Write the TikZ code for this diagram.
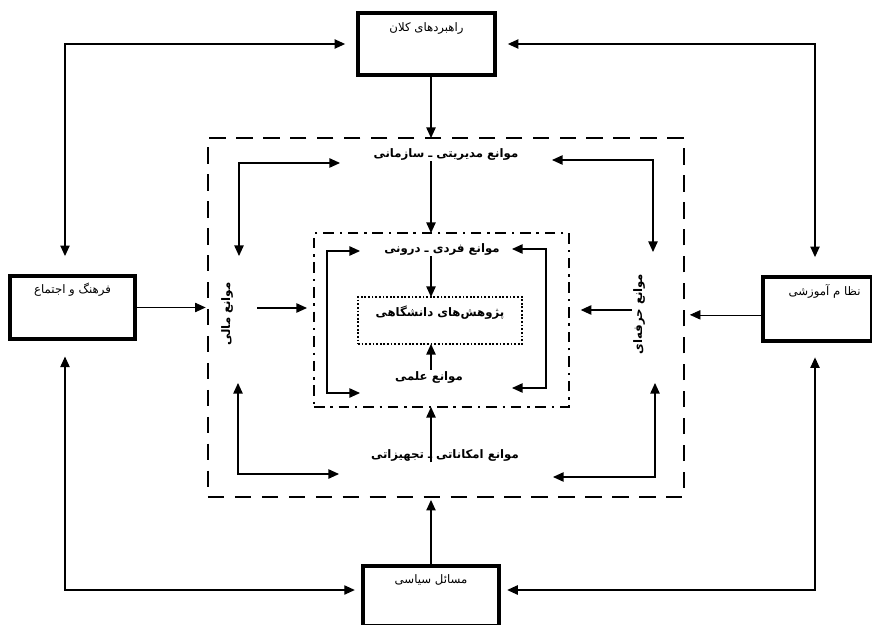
\documentclass[tikz,border=0pt]{standalone}
\usepackage{fontspec}
\newfontfamily\fafont[Script=Arabic]{DejaVu Sans}
\TeXXeTstate=1
\usetikzlibrary{arrows.meta,calc}
\newcommand{\fa}[1]{\beginR #1\endR}

\begin{document}
\begin{tikzpicture}[
  x=0.03cm, y=-0.03cm,
  every node/.style={font=\fafont\fontsize{10}{12}\selectfont},
  bigbox/.style={draw, line width=2.6pt, inner sep=0pt, outer sep=0pt},
  boxlabel/.style={inner sep=1pt},
  barrier/.style={inner sep=1pt, font=\fafont\bfseries\fontsize{10}{12}\selectfont},
  outerframe/.style={draw, line width=2pt, dash pattern=on 14pt off 9pt, inner sep=0pt, outer sep=0pt},
  innerframe/.style={draw, line width=1.8pt, dash pattern=on 9pt off 5pt on 2pt off 5pt, inner sep=0pt, outer sep=0pt},
  coreframe/.style={draw, line width=1.5pt, dash pattern=on 1.5pt off 1.6pt, inner sep=0pt, outer sep=0pt},
  arr/.style={-{Triangle[length=9pt,width=8pt]}, line width=1pt},
  thinarr/.style={arr, line width=0.6pt},
  biarr/.style={{Triangle[length=9pt,width=8pt]}-{Triangle[length=9pt,width=8pt]}, line width=1pt}
]
\useasboundingbox (0,0) rectangle (872,625);

\node[bigbox, minimum width=4.11cm, minimum height=1.86cm] (strat) at (426.5,44) {};
\node[bigbox, minimum width=3.75cm, minimum height=1.89cm] (cult) at (72.5,307.5) {};
\node[bigbox, minimum width=3.27cm, minimum height=1.92cm] (edu) at (817.5,309) {};
\node[bigbox, minimum width=4.08cm, minimum height=1.8cm] (polit) at (431,596) {};

\node[boxlabel] (stratlbl) at ([yshift=-13pt]strat.north) {\fa{راهبردهای کلان}};
\node[boxlabel] (cultlbl) at ([yshift=-12pt]cult.north) {\fa{فرهنگ و اجتماع}};
\node[boxlabel] (edulbl) at ([xshift=6pt,yshift=-12pt]edu.north) {\fa{نظا م آموزشی}};
\node[boxlabel] (politlbl) at ([yshift=-12pt]polit.north) {\fa{مسائل سیاسی}};

\node[outerframe, minimum width=14.28cm, minimum height=10.77cm] (outer) at (446,317.5) {};
\node[innerframe, minimum width=7.65cm, minimum height=5.22cm] (inner) at (441.5,320) {};
\node[coreframe, minimum width=4.92cm, minimum height=1.41cm] (core) at (440,320.5) {};

\node[barrier] (research) at (440,313) {\fa{پژوهش‌های دانشگاهی}};
\node[barrier] (manag) at (446,154) {\fa{موانع مدیریتی ـ سازمانی}};
\node[barrier] (indiv) at (442,249) {\fa{موانع فردی ـ درونی}};
\node[barrier] (sci) at (429,377) {\fa{موانع علمی}};
\node[barrier] (facil) at (445,455) {\fa{موانع امکاناتی ـ تجهیزاتی}};
\node[barrier, rotate=90] (fin) at (227,314) {\fa{موانع مالی}};
\node[barrier, rotate=90] (prof) at (639,314) {\fa{موانع حرفه‌ای}};

\coordinate (axis) at (431,0);
\coordinate (finA) at (257,308);
\coordinate (profA) at (632,310);
\coordinate (tl) at (65,44);
\coordinate (tr) at (815,44);
\coordinate (bl) at (65,590);
\coordinate (br) at (815,590);
\coordinate (mtl) at (239,163);
\coordinate (mtr) at (653,160);
\coordinate (mbl) at (238,474);
\coordinate (mbr) at (655,477);
\coordinate (ctl) at (327,251);
\coordinate (cbl) at (327,393);
\coordinate (ctr) at (546,249);
\coordinate (cbr) at (546,388);

\draw[arr] (strat.south -| axis) -- (outer.north -| axis);
\draw[arr, shorten >=2.5pt] (polit.north -| axis) -- (outer.south -| axis);
\draw[arr] (axis |- manag.south) -- (axis |- inner.north);
\draw[arr] (axis |- indiv.south) -- (axis |- core.north);
\draw[arr] (axis |- sci.north) -- (axis |- core.south);
\draw[arr] (axis |- facil.south) -- (axis |- inner.south);

\draw[thinarr, shorten >=2pt] (cult.east) -- (cult.east -| outer.west);
\draw[thinarr, shorten >=5pt] ([yshift=-5pt]edu.west) -- ([yshift=-5pt]edu.west -| outer.east);
\draw[arr, shorten >=6pt] (finA) -- (finA -| inner.west);
\draw[arr, shorten >=10pt] (profA) -- (profA -| inner.east);

\draw[biarr, shorten <=11pt, shorten >=17pt] (strat.west) -- (tl) -- (tl |- cult.north);
\draw[biarr, shorten <=11pt, shorten >=17pt] (strat.east) -- (tr) -- (tr |- edu.north);
\draw[biarr, shorten <=15pt, shorten >=7pt] (bl |- cult.south) -- (bl) -- (bl -| polit.west);
\draw[biarr, shorten <=14pt, shorten >=7pt] (br |- edu.south) -- (br) -- (br -| polit.east);

\draw[biarr] ($(mtl)+(101,0)$) -- (mtl) -- ($(mtl)+(0,93)$);
\draw[biarr] ($(mtr)+(-101,0)$) -- (mtr) -- ($(mtr)+(0,92)$);
\draw[biarr] ($(mbl)+(0,-91)$) -- (mbl) -- ($(mbl)+(101,0)$);
\draw[biarr] ($(mbr)+(0,-94)$) -- (mbr) -- ($(mbr)+(-102,0)$);

\draw[biarr] ($(ctl)+(33,0)$) -- (ctl) -- (cbl) -- ($(cbl)+(33,0)$);
\draw[biarr] ($(ctr)+(-34,0)$) -- (ctr) -- (cbr) -- ($(cbr)+(-34,0)$);
\end{tikzpicture}
\end{document}
